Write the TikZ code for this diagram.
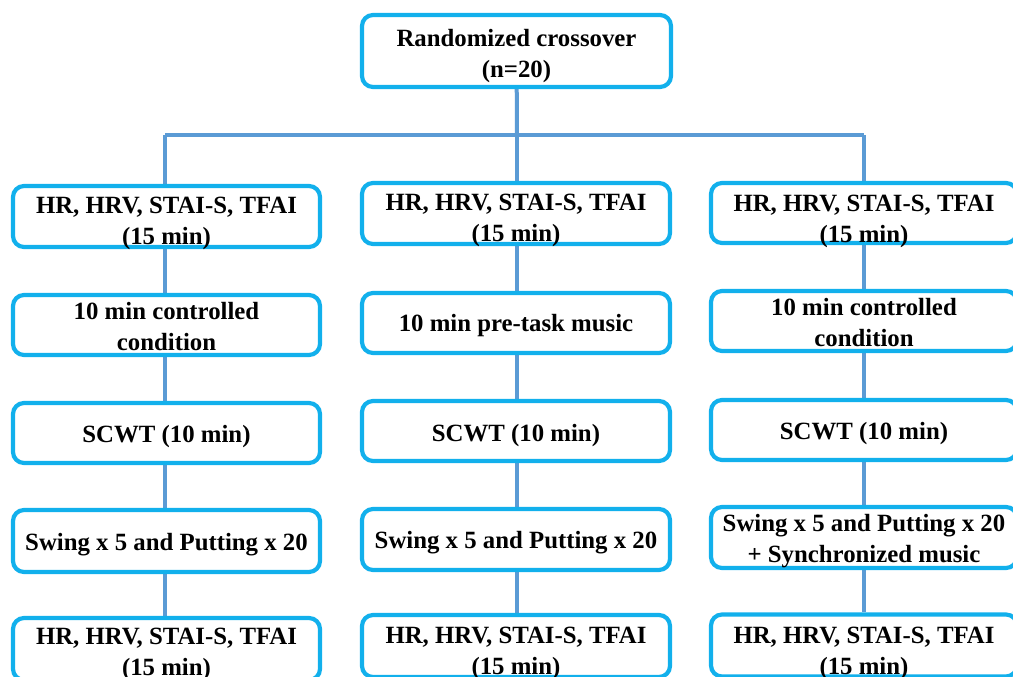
\documentclass[tikz,border=0pt]{standalone}
\usepackage{fontspec}
\setmainfont{Liberation Serif}
\usetikzlibrary{backgrounds}
\definecolor{boxcyan}{HTML}{12B0EC}
\definecolor{linkblue}{HTML}{5B9BD5}
\begin{document}
\begin{tikzpicture}[x=1pt,y=-1pt,
  stepbox/.style={draw=boxcyan, line width=4.2pt, rounded corners=11pt, fill=white, inner sep=0pt},
  steptext/.style={align=center, inner sep=0pt, font=\fontsize{24.8}{31}\selectfont\bfseries},
  link/.style={draw=linkblue, line width=4pt}]
\useasboundingbox (0,0) rectangle (1013,677);
\clip (0,0) rectangle (1013,677);
% #1 name, #2 x, #3 y, #4 width, #5 height, #6 text shift down, #7 text
\newcommand\stepat[7]{%
  \node[stepbox, minimum width=#4pt, minimum height=#5pt] (#1) at (#2,#3) {};
  \node[steptext] (#1t) at ([yshift=-#6pt]#1.center) {#7};}
% top
\stepat{top}{516.5}{51}{309}{72}{5}{Randomized crossover\\(n=20)}
% left column
\stepat{l1}{166.5}{216.5}{307}{61}{6.5}{HR, HRV, STAI-S, TFAI\\(15 min)}
\stepat{l2}{166.5}{325}{307}{60}{1.5}{10 min controlled\\condition}
\stepat{l3}{166.5}{433}{307}{60}{4}{SCWT (10 min)}
\stepat{l4}{166.5}{541}{307}{62}{4}{Swing x 5 and Putting x 20}
\stepat{l5}{166.5}{649}{307}{62}{5.5}{HR, HRV, STAI-S, TFAI\\(15 min)}
% middle column
\stepat{m1}{516}{213.5}{308}{61}{7}{HR, HRV, STAI-S, TFAI\\(15 min)}
\stepat{m2}{516}{323}{308}{60}{3}{10 min pre-task music}
\stepat{m3}{516}{431}{308}{60}{5}{SCWT (10 min)}
\stepat{m4}{516}{539.5}{308}{61}{3}{Swing x 5 and Putting x 20}
\stepat{m5}{516}{646}{308}{62}{7.5}{HR, HRV, STAI-S, TFAI\\(15 min)}
% right column
\stepat{r1}{864}{213}{306}{60}{8}{HR, HRV, STAI-S, TFAI\\(15 min)}
\stepat{r2}{864}{321}{306}{60}{2}{10 min controlled\\condition}
\stepat{r3}{864}{430}{306}{60}{4}{SCWT (10 min)}
\stepat{r4}{864}{537.5}{306}{61}{3.5}{Swing x 5 and Putting x 20\\+ Synchronized music}
\stepat{r5}{864}{645.5}{306}{62}{7.5}{HR, HRV, STAI-S, TFAI\\(15 min)}
% branching coordinates
\coordinate (bl) at (165,135);
\coordinate (bm) at (517,135);
\coordinate (br) at (864,135);
\begin{scope}[on background layer]
\draw[link] (top) -- (bm);
\draw[link] (bl) -- (br);
\draw[link] (bl) -- (bl |- l1) -- (bl |- l2) -- (bl |- l3) -- (bl |- l4) -- (bl |- l5);
\draw[link] (bm) -- (bm |- m1) -- (bm |- m2) -- (bm |- m3) -- (bm |- m4) -- (bm |- m5);
\draw[link] (br) -- (r1) -- (r2) -- (r3) -- (r4) -- (r5);
\end{scope}
\end{tikzpicture}
\end{document}
